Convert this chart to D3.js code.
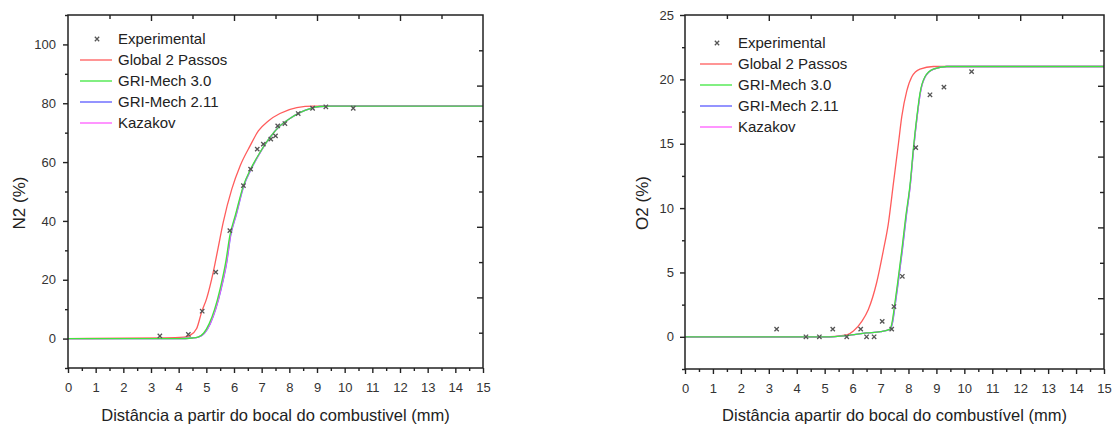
<!DOCTYPE html>
<html lang="en">
<head>
<meta charset="utf-8">
<title>N2 e O2</title>
<script src="https://d3js.org/d3.v7.min.js"></script>
<style>
  body { margin: 0; background: #fff; }
  text { font-family: "Liberation Sans", Arial, sans-serif; }
</style>
</head>
<body>
<script>
// ---- N2 panel data ----
const n2ExpX = [3.32, 4.35, 4.85, 5.34, 5.85, 6.34, 6.6, 6.84, 7.06, 7.33, 7.5, 7.58, 7.84, 8.32, 8.84, 9.32, 10.31];
const n2ExpY = [0.9, 1.4, 9.3, 22.6, 36.7, 52, 57.6, 64.4, 66.1, 67.8, 68.9, 72.3, 73.1, 76.5, 78.3, 78.8, 78.3];

const n2GlobalX = [0, 3.5, 4.2, 4.41, 4.65, 4.83, 5.01, 5.25, 5.43, 5.61, 5.92, 6.22, 6.58, 6.88, 7.24, 7.66, 8.27, 8.87, 15];
const n2GlobalY = [0, 0.2, 0.5, 1.1, 3.4, 9, 13.6, 22.6, 31, 39.5, 50.8, 58.7, 65.5, 70.6, 74, 76.5, 78.5, 79, 79];

const n2GriX = [0, 4.0, 4.5, 4.7, 4.9, 5.1, 5.3, 5.5, 5.7, 5.85, 6.05, 6.34, 6.6, 6.94, 7.3, 7.66, 8.02, 8.38, 8.75, 9.1, 9.5, 15];
const n2GriY = [0, 0, 0.2, 0.5, 1.8, 5, 10, 17, 26, 35, 42, 52, 57.6, 63.3, 68.4, 72.3, 74.8, 76.8, 78.2, 78.9, 79, 79];

const n2Gri211X = [0, 4.0, 4.5, 4.72, 4.93, 5.14, 5.34, 5.54, 5.74, 5.88, 6.08, 6.36, 6.62, 6.95, 7.3, 7.66, 8.02, 8.38, 8.75, 9.1, 9.5, 15];
const n2Gri211Y = [0, 0, 0.2, 0.5, 1.8, 5, 10, 17, 26, 35, 42, 52, 57.6, 63.3, 68.4, 72.3, 74.8, 76.8, 78.2, 78.9, 79, 79];

const n2KazX = [0, 4.0, 4.5, 4.71, 4.92, 5.13, 5.33, 5.53, 5.73, 5.87, 6.07, 6.35, 6.61, 6.95, 7.3, 7.66, 8.02, 8.38, 8.75, 9.1, 9.5, 15];
const n2KazY = [0, 0, 0.2, 0.5, 1.8, 5, 10, 17, 26, 35, 42, 52, 57.6, 63.3, 68.4, 72.3, 74.8, 76.8, 78.2, 78.9, 79, 79];

// ---- O2 panel data ----
const o2ExpX = [3.28, 4.33, 4.81, 5.29, 5.79, 6.29, 6.5, 6.77, 7.06, 7.4, 7.48, 7.78, 8.26, 8.77, 9.27, 10.26];
const o2ExpY = [0.6, 0, 0, 0.6, 0, 0.6, 0, 0, 1.2, 0.6, 2.35, 4.7, 14.7, 18.8, 19.4, 20.6];

const o2GlobalX = [0, 5.0, 5.79, 6.03, 6.33, 6.56, 6.86, 7.1, 7.28, 7.46, 7.64, 7.76, 7.94, 8.12, 8.41, 8.89, 15];
const o2GlobalY = [0, 0, 0.15, 0.45, 1.2, 2.1, 4.2, 6.7, 8.8, 11.9, 15.0, 17.1, 19.1, 20.2, 20.8, 21, 21];

const o2GriX = [0, 5.0, 5.8, 6.5, 7.0, 7.34, 7.42, 7.5, 7.6, 7.76, 7.9, 8.06, 8.17, 8.3, 8.41, 8.59, 8.89, 9.37, 15];
const o2GriY = [0, 0, 0.1, 0.3, 0.4, 0.6, 1.2, 2.4, 4.0, 6.7, 9.3, 11.9, 14.5, 17.1, 18.9, 20.2, 20.8, 21, 21];

const o2Gri211X = [0, 5.0, 5.8, 6.5, 7.0, 7.35, 7.44, 7.52, 7.62, 7.78, 7.92, 8.07, 8.18, 8.31, 8.42, 8.6, 8.9, 9.37, 15];
const o2Gri211Y = [0, 0, 0.1, 0.3, 0.4, 0.6, 1.2, 2.4, 4.0, 6.7, 9.3, 11.9, 14.5, 17.1, 18.9, 20.2, 20.8, 21, 21];

const o2KazX = [0, 5.0, 5.8, 6.5, 7.0, 7.34, 7.43, 7.51, 7.61, 7.77, 7.91, 8.07, 8.18, 8.31, 8.42, 8.6, 8.9, 9.37, 15];
const o2KazY = [0, 0, 0.1, 0.3, 0.4, 0.6, 1.2, 2.4, 4.0, 6.7, 9.3, 11.9, 14.5, 17.1, 18.9, 20.2, 20.8, 21, 21];

// ---- axes / legend ----
const xTicks = d3.range(0, 16, 1);
const xMinor = d3.range(0.5, 15, 1);
const n2YTicks = [0, 20, 40, 60, 80, 100];
const n2YMinor = [-10, 10, 30, 50, 70, 90, 110];
const o2YTicks = [0, 5, 10, 15, 20, 25];
const o2YMinor = [-2.5, 2.5, 7.5, 12.5, 17.5, 22.5];
const mirrorMajor = [2, 4, 6, 8];
const mirrorMinor = [1, 3, 5, 7, 9];
const seriesNames = ['Global 2 Passos', 'GRI-Mech 3.0', 'GRI-Mech 2.11', 'Kazakov'];
const seriesColors = ['#ff5c5c', '#3ee63e', '#5a5aff', '#ff5cff'];

const svg = d3.select('body').append('svg')
  .attr('width', 1114)
  .attr('height', 428);

function zip(xs, ys) {
  return xs.map((v, i) => [v, ys[i]]);
}

function drawPanel(p) {
  const x = d3.scaleLinear().domain([0, 15]).range([p.left, p.right]);
  const y = d3.scaleLinear().domain(p.yDomain).range([p.bottom, p.top]);
  const mx = d3.scaleLinear().domain([0, 10]).range([p.left, p.right]);
  const my = d3.scaleLinear().domain([0, 10]).range([p.top, p.bottom]);
  const g = svg.append('g');

  const line = d3.line()
    .x(d => x(d[0]))
    .y(d => y(d[1]))
    .curve(d3.curveMonotoneX);

  // draw order: red, blue, magenta, green on top
  [0, 2, 3, 1].forEach(i => {
    g.append('path')
      .datum(p.series[i])
      .attr('fill', 'none')
      .attr('stroke', seriesColors[i])
      .attr('stroke-width', 1.3)
      .attr('d', line);
  });

  const sym = d3.symbol(d3.symbolX, 14);
  g.selectAll('.pt')
    .data(p.exp)
    .enter()
    .append('path')
    .attr('class', 'pt')
    .attr('transform', d => `translate(${x(d[0])},${y(d[1])})`)
    .attr('d', sym)
    .attr('fill', 'none')
    .attr('stroke', '#555')
    .attr('stroke-width', 1.3);

  const noDomain = s => s.select('.domain').remove();
  const tickStyle = s => s.selectAll('line').attr('stroke', '#222').attr('stroke-width', 1.4);

  // bottom
  g.append('g').attr('transform', `translate(0,${p.bottom})`)
    .call(d3.axisBottom(x).tickValues(xTicks).tickSize(5).tickPadding(10).tickFormat(d3.format('d')))
    .call(noDomain).call(tickStyle);
  g.append('g').attr('transform', `translate(0,${p.bottom})`)
    .call(d3.axisBottom(x).tickValues(xMinor).tickSize(3).tickFormat(''))
    .call(noDomain).call(tickStyle);
  // left
  g.append('g').attr('transform', `translate(${p.left},0)`)
    .call(d3.axisLeft(y).tickValues(p.yTicks).tickSize(5).tickPadding(p.yPad).tickFormat(d3.format('d')))
    .call(noDomain).call(tickStyle);
  g.append('g').attr('transform', `translate(${p.left},0)`)
    .call(d3.axisLeft(y).tickValues(p.yMinor).tickSize(3).tickFormat(''))
    .call(noDomain).call(tickStyle);
  // top & right mirror ticks (inward)
  g.append('g').attr('transform', `translate(0,${p.top})`)
    .call(d3.axisBottom(mx).tickValues(mirrorMajor).tickSize(6).tickFormat(''))
    .call(noDomain).call(tickStyle);
  g.append('g').attr('transform', `translate(0,${p.top})`)
    .call(d3.axisBottom(mx).tickValues(mirrorMinor).tickSize(4).tickFormat(''))
    .call(noDomain).call(tickStyle);
  g.append('g').attr('transform', `translate(${p.right},0)`)
    .call(d3.axisLeft(my).tickValues(mirrorMajor).tickSize(6).tickFormat(''))
    .call(noDomain).call(tickStyle);
  g.append('g').attr('transform', `translate(${p.right},0)`)
    .call(d3.axisLeft(my).tickValues(mirrorMinor).tickSize(4).tickFormat(''))
    .call(noDomain).call(tickStyle);

  g.selectAll('.tick text')
    .attr('fill', '#333')
    .style('font-size', '13px')
    .style('font-family', '"Liberation Sans", Arial, sans-serif');

  // frame
  g.append('rect')
    .attr('x', p.left).attr('y', p.top)
    .attr('width', p.right - p.left).attr('height', p.bottom - p.top)
    .attr('fill', 'none')
    .attr('stroke', '#222')
    .attr('stroke-width', 1.5);

  // titles
  g.append('text')
    .attr('x', (p.left + p.right) / 2)
    .attr('y', 421)
    .attr('text-anchor', 'middle')
    .attr('fill', '#222')
    .style('font-size', '16.5px')
    .text(p.xTitle);
  g.append('text')
    .attr('transform', `translate(${p.yTitleX},203) rotate(-90)`)
    .attr('text-anchor', 'middle')
    .attr('fill', '#222')
    .style('font-size', '17px')
    .text(p.yTitle);

  // legend
  const lg = g.append('g').attr('transform', `translate(${p.legendX},${p.legendY})`);
  const rowH = 21;
  lg.append('path')
    .attr('transform', 'translate(17,0)')
    .attr('d', sym)
    .attr('fill', 'none')
    .attr('stroke', '#555')
    .attr('stroke-width', 1.3);
  lg.append('text').attr('x', 38).attr('y', 5).attr('fill', '#222')
    .style('font-size', '15px').text('Experimental');
  seriesNames.forEach((name, i) => {
    const yy = (i + 1) * rowH;
    lg.append('line')
      .attr('x1', 0).attr('x2', 32)
      .attr('y1', yy).attr('y2', yy)
      .attr('stroke', seriesColors[i])
      .attr('stroke-width', 1.3);
    lg.append('text').attr('x', 38).attr('y', yy + 5).attr('fill', '#222')
      .style('font-size', '15px').text(name);
  });
}

drawPanel({
  left: 68, right: 483, top: 15, bottom: 368,
  yDomain: [-10, 110], yTicks: n2YTicks, yMinor: n2YMinor, yPad: 7,
  series: [zip(n2GlobalX, n2GlobalY), zip(n2GriX, n2GriY), zip(n2Gri211X, n2Gri211Y), zip(n2KazX, n2KazY)],
  exp: zip(n2ExpX, n2ExpY),
  xTitle: 'Distância a partir do bocal do combustivel (mm)',
  yTitle: 'N2 (%)', yTitleX: 25,
  legendX: 80, legendY: 39
});

drawPanel({
  left: 685, right: 1104, top: 15, bottom: 369,
  yDomain: [-2.5, 25], yTicks: o2YTicks, yMinor: o2YMinor, yPad: 6,
  series: [zip(o2GlobalX, o2GlobalY), zip(o2GriX, o2GriY), zip(o2Gri211X, o2Gri211Y), zip(o2KazX, o2KazY)],
  exp: zip(o2ExpX, o2ExpY),
  xTitle: 'Distância apartir do bocal do combustível (mm)',
  yTitle: 'O2 (%)', yTitleX: 648,
  legendX: 700, legendY: 43
});
</script>
</body>
</html>
